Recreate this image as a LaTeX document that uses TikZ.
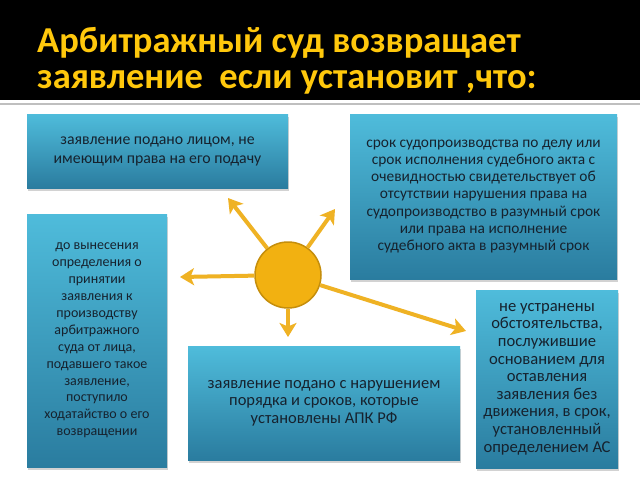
\documentclass[tikz,border=0pt]{standalone}
\usepackage{fontspec}
\setmainfont{Carlito}
\usepackage{tikz}
\usetikzlibrary{arrows.meta,shadows}

\definecolor{titleyellow}{HTML}{FFC80C}
\definecolor{boxtop}{HTML}{4FBCDB}
\definecolor{boxbottom}{HTML}{2A7C9F}
\definecolor{boxtext}{HTML}{16222E}
\definecolor{sunfill}{HTML}{F2B111}
\definecolor{sunline}{HTML}{C58E0C}
\definecolor{rayyellow}{HTML}{EFB224}

\begin{document}
\begin{tikzpicture}[x=1pt, y=-1pt,
    title/.style = {anchor=base west, text=titleyellow, inner sep=0pt,
        font=\fontsize{36.5}{38}\selectfont\bfseries},
    box/.style = {top color=boxtop, bottom color=boxbottom, align=center,
        text=boxtext, inner sep=0pt,
        drop shadow={shadow xshift=1pt, shadow yshift=-3pt, opacity=0.35}},
    ray/.style = {rayyellow, line width=4pt,
        -{Stealth[length=14pt, width=17pt, inset=3.5pt]}}]
            \useasboundingbox (0,0) rectangle (640,480);
            \fill[white] (0,0) rectangle (640,480);
            
            % header band
            \fill[black] (0,0) rectangle (640,100);
            \draw[black!25, line width=2pt] (0,103.5) -- (640,103.5);
            \node[title] (title1) at (37,52) {Арбитражный суд возвращает};
            \node[title] (title2) at (37,88) {заявление \ если установит ,что:};
            
            % boxes
            \node[box, minimum width=261pt, minimum height=74pt,
                font=\fontsize{15.8}{19}\selectfont] (lico) at (157.5,151)
                {заявление подано лицом, не\\имеющим права на его подачу};
            \node[box, minimum width=267pt, minimum height=165pt,
                font=\fontsize{15.4}{17.2}\selectfont] (srok) at (483.5,196.5)
                {срок судопроизводства по делу или\\срок исполнения судебного акта с\\очевидностью свидетельствует об\\отсутствии нарушения права на\\судопроизводство в разумный срок\\или права на исполнение\\судебного акта в разумный срок};
            \node[box, minimum width=140pt, minimum height=253pt,
                font=\fontsize{14}{16.9}\selectfont] (hodat) at (97,340.5)
                {до вынесения\\определения о\\принятии\\заявления к\\производству\\арбитражного\\суда от лица,\\подавшего такое\\заявление,\\поступило\\ходатайство о его\\возвращении};
            \node[box, minimum width=272pt, minimum height=114pt,
                font=\fontsize{16.5}{17.6}\selectfont] (poryadok) at (324,403)
                {заявление подано с нарушением\\порядка и сроков, которые\\установлены АПК РФ};
            \node[box, minimum width=142pt, minimum height=178pt,
                font=\fontsize{16.6}{17.6}\selectfont] (dvizh) at (547,379)
                {не устранены\\обстоятельства,\\послужившие\\основанием для\\оставления\\заявления без\\движения, в срок,\\установленный\\определением АС};
            
            % sun with rays
            \node[circle, fill=sunfill, draw=sunline, line width=1.5pt,
                minimum size=66pt] (sun) at (288,275) {};
            \coordinate (tUL) at (228,198);
            \coordinate (tUR) at (335,209);
            \coordinate (tL) at (180,277);
            \coordinate (tD) at (288,337);
            \coordinate (tDR) at (466,331);
            \draw[ray] (sun) -- (tUL);
            \draw[ray] (sun) -- (tUR);
            \draw[ray] (sun) -- (tL);
            \draw[ray] (sun) -- (tD);
            \draw[ray] (sun) -- (tDR);
        \end{tikzpicture}
\end{document}
